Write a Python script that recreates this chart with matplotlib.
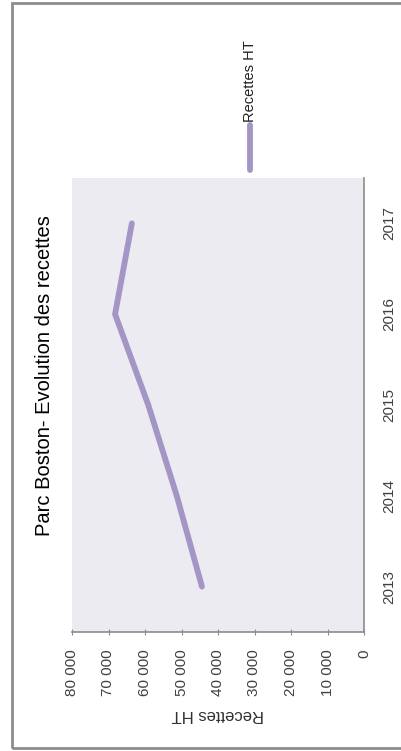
import matplotlib.pyplot as plt
from matplotlib.lines import Line2D
from matplotlib.patches import Rectangle

plt.rcParams["font.family"] = ["Liberation Sans", "DejaVu Sans"]

annees = ["2013", "2014", "2015", "2016", "2017"]
recettes = [44400, 51300, 59100, 68200, 63600]
graduations = [80000, 70000, 60000, 50000, 40000, 30000, 20000, 10000, 0]
etiquettes = ["80 000", "70 000", "60 000", "50 000", "40 000",
              "30 000", "20 000", "10 000", "0"]

couleur = "#a395c4"

fig = plt.figure(figsize=(4.01, 7.51), dpi=100)
fig.patch.set_facecolor("white")

# cadre gris autour du graphique
fig.add_artist(Rectangle((12 / 401, 3 / 751), 1.0, 745 / 751,
                         transform=fig.transFigure, fill=False,
                         edgecolor="#8c8c8c", linewidth=2))

ax = fig.add_axes([72 / 401, 1 - 632 / 751, 292 / 401, 454 / 751])
ax.set_facecolor("#ecebf1")

pos = list(range(len(annees)))
ax.plot(recettes, pos, color=couleur, linewidth=4.2, solid_capstyle="round",
        solid_joinstyle="round")

ax.set_xlim(80000, 0)
ax.set_ylim(-0.5, len(annees) - 0.5)

ax.set_xticks(graduations)
ax.set_xticklabels(etiquettes, rotation=90, fontsize=11, color="#404040")
ax.tick_params(axis="x", direction="inout", length=5, color="#8c8c8c",
               pad=10)

ax.yaxis.tick_right()
ax.set_yticks(pos)
ax.set_yticklabels(annees, rotation=90, va="center", fontsize=11,
                   color="#404040")
ax.tick_params(axis="y", length=0, pad=13)

for s in ["top", "left"]:
    ax.spines[s].set_visible(False)
for s in ["bottom", "right"]:
    ax.spines[s].set_color("#8c8c8c")
    ax.spines[s].set_linewidth(1.2)

ax.set_xlabel("Recettes HT", rotation=180, fontsize=12, color="#303030",
              labelpad=8)

fig.text(45 / 401, 0.5, "Parc Boston- Evolution des recettes", rotation=90,
         ha="center", va="center", fontsize=14.5, color="black")

# légende
fig.add_artist(Line2D([250 / 401, 250 / 401], [1 - 170 / 751, 1 - 125 / 751],
                      transform=fig.transFigure, color=couleur, linewidth=4.2,
                      solid_capstyle="round"))
fig.text(250 / 401, 1 - 122 / 751, "Recettes HT", rotation=90, ha="center",
         va="bottom", fontsize=10.5, color="#202020")

fig.savefig("out.png", dpi=100)
